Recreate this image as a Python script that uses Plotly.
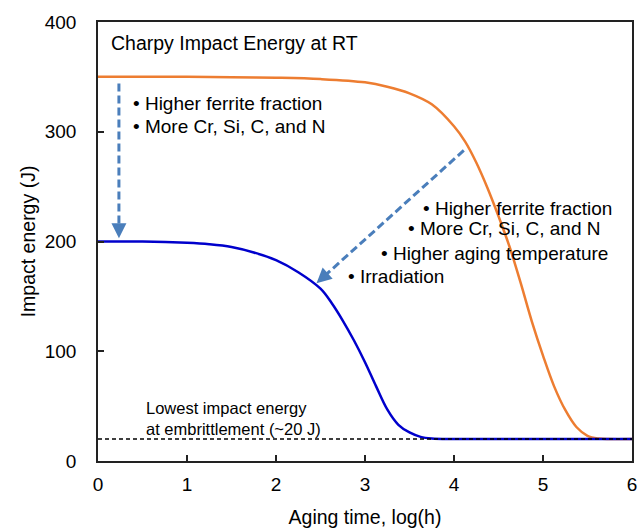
import plotly.graph_objects as go

# ---- data ----
orange_x = [0, 0.5, 1, 1.5, 2, 2.5, 3, 3.25, 3.5, 3.75, 4, 4.125, 4.25, 4.375, 4.5, 4.625,
            4.75, 4.875, 5, 5.125, 5.25, 5.375, 5.5, 5.625, 5.75, 6]
orange_y = [350, 350, 350, 349.7, 349.2, 348, 345, 341, 335, 325, 305, 291, 272, 249, 223, 195,
            162, 127, 96, 68, 46.5, 31, 23, 20.5, 20, 20]

blue_x = [0, 0.5, 1, 1.25, 1.5, 1.75, 2, 2.25, 2.5, 2.625, 2.75, 2.875, 3, 3.125, 3.25,
          3.375, 3.5, 3.625, 3.75, 4, 5, 6]
blue_y = [200, 200, 198.8, 197.5, 195, 190, 183, 172, 157, 144, 128, 110, 90, 68, 47,
          33, 26, 22, 20.5, 20, 20, 20]

threshold_x = [0, 6]
threshold_y = [20, 20]

x_ticks = [0, 1, 2, 3, 4, 5, 6]
y_ticks = [0, 100, 200, 300, 400]

title_text = "Charpy Impact Energy at RT"
left_notes = ["• Higher ferrite fraction", "• More Cr, Si, C, and N"]
right_notes = ["• Higher ferrite fraction", "• More Cr, Si, C, and N",
               "• Higher aging temperature", "• Irradiation"]
low_note = "Lowest impact energy<br>at embrittlement (~20 J)"

# annotation anchor positions (data units)
left_note_pos = [(0.37, 326), (0.37, 305)]
right_note_pos = [(3.63, 230.5), (3.46, 211.5), (3.16, 189.5), (2.79, 168.5)]
title_pos = (0.125, 381)
low_note_pos = (0.52, 38.5)

# arrows: (start, tip)
arrow1 = ((0.235, 344), (0.235, 203))
arrow2 = ((4.11, 283), (2.455, 162))

ARROW_C = "#4A7EBB"
FONT = "Arial, Liberation Sans, sans-serif"

fig = go.Figure()
fig.add_trace(go.Scatter(x=orange_x, y=orange_y, mode="lines",
                         line=dict(color="#ED7D31", width=2.5, shape="spline", smoothing=1),
                         showlegend=False, hoverinfo="skip"))
fig.add_trace(go.Scatter(x=blue_x, y=blue_y, mode="lines",
                         line=dict(color="#0000CC", width=2.5, shape="spline", smoothing=1),
                         showlegend=False, hoverinfo="skip"))
fig.add_trace(go.Scatter(x=threshold_x, y=threshold_y, mode="lines",
                         line=dict(color="black", width=1.5, dash="4px,3px"),
                         showlegend=False, hoverinfo="skip"))

annotations = []
annotations.append(dict(x=title_pos[0], y=title_pos[1], text=title_text, showarrow=False,
                        xanchor="left", yanchor="middle", font=dict(size=19.5, color="black")))
for (px, py), t in zip(left_note_pos, left_notes):
    annotations.append(dict(x=px, y=py, text=t, showarrow=False, xanchor="left",
                            yanchor="middle", font=dict(size=19, color="black")))
for (px, py), t in zip(right_note_pos, right_notes):
    annotations.append(dict(x=px, y=py, text=t, showarrow=False, xanchor="left",
                            yanchor="middle", font=dict(size=19, color="black")))
annotations.append(dict(x=low_note_pos[0], y=low_note_pos[1], text=low_note, showarrow=False,
                        xanchor="left", yanchor="middle", align="left",
                        font=dict(size=16.5, color="black")))

shapes = []
for (s, t), frac_line, frac_head in [(arrow1, 0.07, 0.09), (arrow2, 0.05, 0.075)]:
    lx = t[0] + (s[0] - t[0]) * frac_line
    ly = t[1] + (s[1] - t[1]) * frac_line
    shapes.append(dict(type="line", xref="x", yref="y", x0=s[0], y0=s[1], x1=lx, y1=ly,
                       line=dict(color=ARROW_C, width=3, dash="8px,4px")))
    hx = t[0] + (s[0] - t[0]) * frac_head
    hy = t[1] + (s[1] - t[1]) * frac_head
    annotations.append(dict(x=t[0], y=t[1], ax=hx, ay=hy, axref="x", ayref="y",
                            xref="x", yref="y", text="", showarrow=True,
                            arrowhead=2, arrowsize=1.0, arrowwidth=3, arrowcolor=ARROW_C))

fig.update_layout(
    width=638, height=529,
    margin=dict(l=98, r=6, t=22, b=68),
    paper_bgcolor="white", plot_bgcolor="white",
    font=dict(family=FONT, size=19, color="black"),
    annotations=annotations, shapes=shapes,
)
fig.update_xaxes(range=[0, 6], tickvals=x_ticks, ticks="inside", ticklen=6, tickwidth=1.5,
                 tickcolor="#222", showline=True, linecolor="#222", linewidth=1.5, mirror=True,
                 showgrid=False, zeroline=False, tickfont=dict(size=19), ticklabelstandoff=5,
                 automargin=False,
                 title=dict(text="Aging time, log(h)", font=dict(size=19.5), standoff=17))
fig.update_yaxes(range=[0, 400], tickvals=y_ticks, ticks="inside", ticklen=6, tickwidth=1.5,
                 tickcolor="#222", showline=True, linecolor="#222", linewidth=1.5, mirror=True,
                 showgrid=False, zeroline=False, tickfont=dict(size=19), ticklabelstandoff=16,
                 automargin=False,
                 title=dict(text="Impact energy (J)", font=dict(size=19.5), standoff=4))

fig.write_html("out.html")
